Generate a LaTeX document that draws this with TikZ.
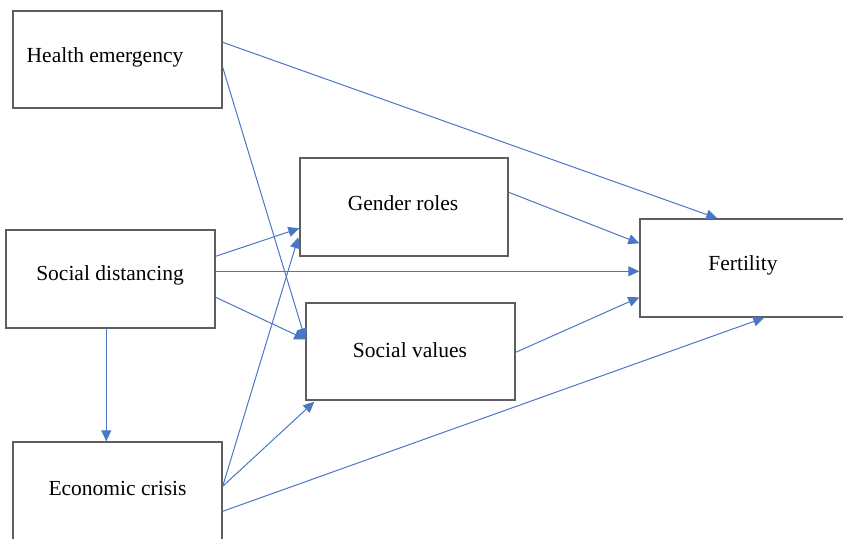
\documentclass[tikz,border=0pt]{standalone}
\usepackage{fontspec}
\setmainfont{Liberation Serif}
\usetikzlibrary{arrows.meta,calc}
\definecolor{linkblue}{HTML}{4A78C4}
\definecolor{boxgray}{HTML}{5E5E5E}
\begin{document}
\begin{tikzpicture}[x=1pt,y=-1pt,
  box/.style={draw=boxgray,line width=1.4pt,fill=white,inner sep=0pt},
  lbl/.style={font=\fontsize{21.5}{25}\selectfont,inner sep=0pt},
  link/.style={draw=linkblue,line width=1pt,-{Triangle[length=11pt,width=10pt]}}]
\useasboundingbox (0,0) rectangle (843,538);
\clip (0,0) rectangle (843,538);
\fill[white] (0,0) rectangle (843,538);

% boxes
\node[box,minimum width=209pt,minimum height=97pt] (he) at (117.5,59.5) {};
\node[box,minimum width=209pt,minimum height=98pt] (sd) at (110.5,279) {};
\node[box,minimum width=209pt,minimum height=106pt] (ec) at (117.5,495) {};
\node[box,minimum width=208pt,minimum height=98pt] (gr) at (404,207) {};
\node[box,minimum width=209pt,minimum height=97pt] (sv) at (410.5,351.5) {};
\node[box,minimum width=210pt,minimum height=98pt] (fe) at (745,268) {};

% labels
\node[lbl] (heT) at (105,57) {Health emergency};
\node[lbl] (sdT) at (110,275) {Social distancing};
\node[lbl] (ecT) at (117.5,488) {Economic crisis};
\node[lbl] (grT) at (403,203) {Gender roles};
\node[lbl] (svT) at (410,350) {Social values};
\node[lbl] (feT) at (743,265) {Fertility};

% connectors
\draw[link] ($(he.north east)+(0,32)$) -- ($(fe.north west)+(78,0)$);
\draw[link] ($(he.north east)+(0,57)$) -- ($(sv.north west)+(0,37)$);
\draw[link] ($(sd.north east)+(0,27)$) -- ($(gr.north west)+(0,71)$);
\draw[link] ($(sd.north east)+(0,42)$) -- (fe.west |- {$(sd.north east)+(0,42)$});
\draw[link] ($(sd.north east)+(0,68)$) -- ($(sv.north west)+(0,37)$);
\draw[link] ($(sd.south west)+(101,0)$) -- ($(ec.north west)+(94,0)$);
\draw[link] ($(ec.north east)+(0,45)$) -- ($(gr.north west)+(-1,80)$);
\draw[link] ($(ec.north east)+(0,45)$) -- ($(sv.south west)+(9,1)$);
\draw[link] ($(ec.north east)+(0,70)$) -- ($(fe.south west)+(125,0)$);
\draw[link] ($(gr.north east)+(0,35)$) -- ($(fe.north west)+(0,25)$);
\draw[link] ($(sv.north east)+(0,50)$) -- ($(fe.north west)+(0,79)$);
\end{tikzpicture}
\end{document}
